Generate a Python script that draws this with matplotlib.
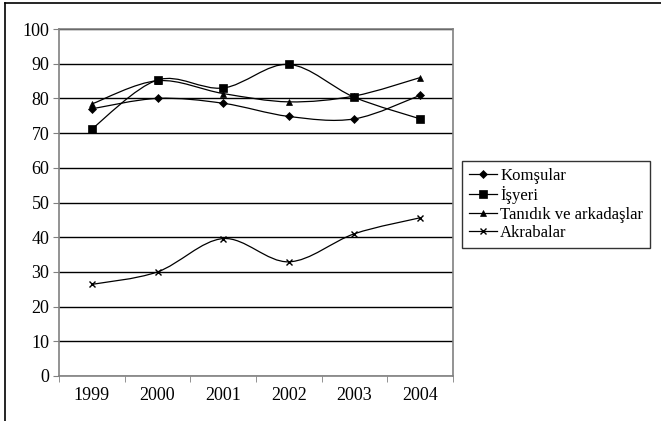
import numpy as np
import matplotlib
matplotlib.use("Agg")
import matplotlib.pyplot as plt
from matplotlib.path import Path
from matplotlib.patches import PathPatch
from matplotlib.lines import Line2D

years = ["1999", "2000", "2001", "2002", "2003", "2004"]
komsular = [77.0, 80.0, 78.6, 74.8, 74.1, 80.9]
isyeri = [71.2, 85.3, 83.0, 89.8, 80.3, 74.1]
tanidik = [78.4, 85.1, 81.4, 79.0, 80.7, 86.0]
akrabalar = [26.4, 30.0, 39.6, 32.9, 41.0, 45.6]

series = [
    ("Komşular", komsular, "D", 4),
    ("İşyeri", isyeri, "s", 6),
    ("Tanıdık ve arkadaşlar", tanidik, "^", 5),
    ("Akrabalar", akrabalar, "x", 5),
]

plt.rcParams['font.family'] = ['Liberation Serif', 'DejaVu Serif']


def smooth_path(x, y):
    # excel-like smoothed line: cubic bezier through every point
    pts = np.column_stack([x, y])
    n = len(pts)
    verts = [pts[0]]
    codes = [Path.MOVETO]
    for i in range(n - 1):
        p0 = pts[max(i - 1, 0)]
        p1 = pts[i]
        p2 = pts[i + 1]
        p3 = pts[min(i + 2, n - 1)]
        c1 = p1 + (p2 - p0) / 6.0
        c2 = p2 - (p3 - p1) / 6.0
        verts += [c1, c2, p2]
        codes += [Path.CURVE4] * 3
    return Path(verts, codes)


fig = plt.figure(figsize=(6.61, 4.21), dpi=100)
ax = fig.add_axes([59 / 661, 45 / 421, 394 / 661, 347 / 421])

xs = np.arange(len(years))
for name, vals, mk, ms in series:
    ax.add_patch(PathPatch(smooth_path(xs, vals), fill=False, edgecolor="black", lw=0.9, zorder=3))
    ax.plot(xs, vals, linestyle="none", marker=mk, markersize=ms, color="black",
            markeredgewidth=1.0 if mk == "x" else 0.5, zorder=4)

ax.set_xlim(-0.5, len(years) - 0.5)
ax.set_ylim(0, 100)
ax.set_yticks(range(0, 101, 10))
ax.set_xticks(xs)
ax.set_xticklabels(years)
ax.set_xticks(np.arange(-0.5, len(years)), minor=True)
ax.tick_params(axis="x", which="major", length=0, pad=8, labelsize=13)
ax.tick_params(axis="x", which="minor", length=4, direction="out", color="#808080")
ax.tick_params(axis="y", length=4, color="#808080", labelsize=13, pad=3)
ax.yaxis.grid(True, color="black", lw=1)
ax.set_axisbelow(True)
for s in ax.spines.values():
    s.set_color("#808080")
    s.set_linewidth(1.2)

handles = [Line2D([], [], color="black", lw=0.9, marker=mk, markersize=ms,
                  markeredgewidth=1.0 if mk == "x" else 0.5) for _, _, mk, ms in series]
leg = fig.legend(handles, [s[0] for s in series], loc="upper left",
                 bbox_to_anchor=(462 / 661, 1 - 161 / 421), bbox_transform=fig.transFigure,
                 frameon=True, fancybox=False, edgecolor="black", fontsize=12,
                 handlelength=1.7, handletextpad=0.2, labelspacing=0.15, borderpad=0.4,
                 borderaxespad=0)
leg.get_frame().set_linewidth(1.0)

# outer frame of the chart area (left and top)
fig.add_artist(Line2D([5 / 661, 5 / 661], [0, 1 - 3 / 421], color="black", lw=1.2, transform=fig.transFigure))
fig.add_artist(Line2D([5 / 661, 1], [1 - 3 / 421, 1 - 3 / 421], color="black", lw=1.2, transform=fig.transFigure))

fig.savefig("out.png", dpi=100)
